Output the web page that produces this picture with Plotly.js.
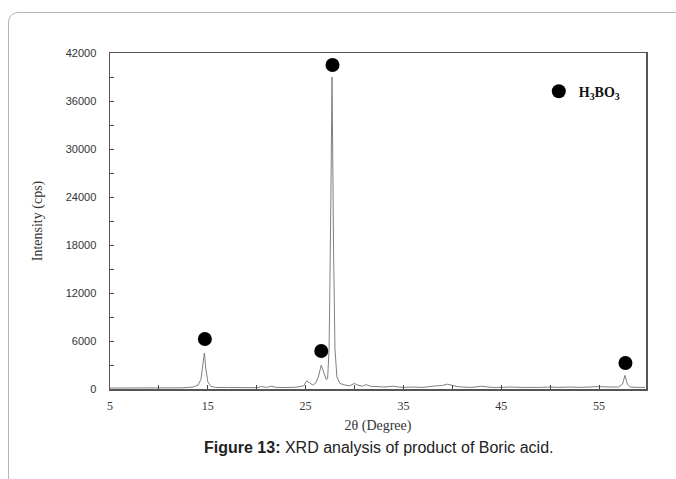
<!DOCTYPE html>
<html><head><meta charset="utf-8">
<script src="https://cdn.plot.ly/plotly-3.0.1.min.js"></script>
<style>
html,body{margin:0;padding:0;background:#fff;}
#card{position:absolute;left:8px;top:12px;width:720px;height:520px;border:1px solid #b5b5b5;border-radius:10px;}
#chart{position:absolute;left:0;top:0;width:676px;height:479px;}
</style></head>
<body><div id="card"></div><div id="chart"></div>
<script>
// XRD pattern (2θ in degrees, intensity in cps)
var twoTheta = [5,7,9,11,12.5,13.5,14.0,14.3,14.5,14.65,14.8,15.0,15.3,15.8,17,18,19,20,20.5,21,21.5,22,23,24,24.8,25.1,25.4,25.7,26.0,26.3,26.6,26.9,27.1,27.25,27.4,27.55,27.7,27.85,28.0,28.2,28.5,29,29.5,30,30.3,30.8,31.2,31.6,32,33,33.5,34,34.5,35,36,37,38,39,39.5,40,40.5,41,42,43,43.5,44,45,46,47,48,49,50,51,52,53,54,55,56,57,57.4,57.65,57.9,58.2,59,59.7];
var intensity = [120,110,120,130,150,250,500,1200,2800,4500,2500,900,350,200,180,160,200,170,300,200,350,200,180,220,400,1000,800,500,700,1500,3000,1800,1200,1300,5000,20000,39000,18000,5000,1500,700,500,400,700,500,350,550,350,300,250,300,350,250,200,250,200,350,450,600,450,300,250,200,350,250,200,200,250,200,180,200,250,200,250,200,250,300,250,250,600,1700,600,250,200,200];
// H3BO3 peak markers
var peakX = [14.7,26.6,27.75,57.7];
var peakY = [6250,4750,40500,3250];
var yTicks = [0,6000,12000,18000,24000,30000,36000,42000];
var xTicks = [5,15,25,35,45,55];

var traces = [
  {x: twoTheta, y: intensity, type:'scatter', mode:'lines', line:{color:'#808080', width:1}, showlegend:false, hoverinfo:'skip'},
  {x: peakX, y: peakY, type:'scatter', mode:'markers', marker:{color:'#000', size:14}, name:'<b>H<sub>3</sub>BO<sub>3</sub></b>', showlegend:true}
];
var layout = {
  width:676, height:479,
  margin:{l:110, r:30, t:53, b:90},
  paper_bgcolor:'rgba(0,0,0,0)', plot_bgcolor:'#fff',
  xaxis:{range:[5,59.8], tickvals:xTicks, ticktext:xTicks.map(String), ticks:'inside', ticklen:4, tickcolor:'#444',
    minor:{dtick:5, tick0:5, ticks:'inside', ticklen:4, tickcolor:'#444'},
    showline:true, linecolor:'#555', linewidth:1.5, mirror:true, showgrid:false, zeroline:false,
    ticklabelstandoff:5,
    tickfont:{family:'Liberation Serif', size:12, color:'#333'},
    title:{text:'2θ (Degree)', font:{family:'Liberation Serif', size:14, color:'#333'}, standoff:8}},
  yaxis:{range:[0,42000], tickvals:yTicks, ticktext:yTicks.map(String), ticks:'inside', ticklen:4, tickcolor:'#444',
    minor:{dtick:3000, ticks:'inside', ticklen:4, tickcolor:'#444'},
    showline:true, linecolor:'#555', linewidth:1.5, mirror:true, showgrid:false, zeroline:false,
    ticklabelstandoff:10,
    tickfont:{family:'Liberation Sans', size:11, color:'#333'},
    title:{text:'Intensity (cps)', font:{family:'Liberation Serif', size:14, color:'#333'}, standoff:20}},
  legend:{x:0.80, y:0.885, xanchor:'left', yanchor:'middle', bgcolor:'rgba(0,0,0,0)',
    font:{family:'Liberation Serif', size:14, color:'#111'}},
  annotations:[{xref:'paper', yref:'paper', x:0.5, y:-0.175, xanchor:'center', yanchor:'middle', showarrow:false,
    text:'<b>Figure 13:</b> XRD analysis of product of Boric acid.', font:{family:'Liberation Sans', size:16, color:'#222'}}]
};
Plotly.newPlot('chart', traces, layout, {displayModeBar:false, staticPlot:true});
</script></body></html>
